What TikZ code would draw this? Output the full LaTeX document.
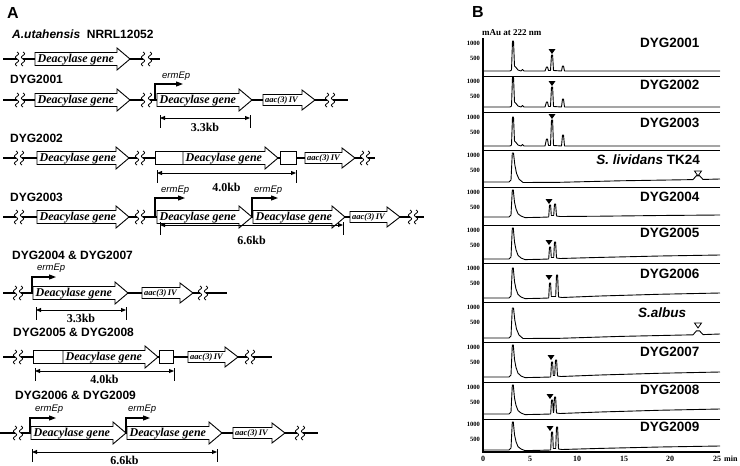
\documentclass[tikz,border=0pt]{standalone}
\usepackage{fontspec}
\setmainfont{Liberation Serif}
\setsansfont{Liberation Sans}
\usetikzlibrary{arrows.meta}
\tikzset{
  lab/.style={font=\sffamily\bfseries\fontsize{12}{12}\selectfont, anchor=west, inner sep=0},
  panellab/.style={font=\sffamily\bfseries\fontsize{16}{16}\selectfont, inner sep=0},
  blab/.style={font=\sffamily\bfseries\fontsize{13.5}{13.5}\selectfont, anchor=west, inner sep=0},
  genetxt/.style={font=\rmfamily\bfseries\itshape\fontsize{12}{12}\selectfont, inner sep=0},
  aactxt/.style={font=\rmfamily\bfseries\itshape\fontsize{8.5}{8.5}\selectfont, inner sep=0},
  promtxt/.style={font=\sffamily\itshape\fontsize{9.5}{9.5}\selectfont, anchor=west, inner sep=0},
  kbtxt/.style={font=\rmfamily\bfseries\fontsize{12}{12}\selectfont, inner sep=0},
  ytick/.style={font=\rmfamily\bfseries\fontsize{6.5}{6.5}\selectfont, anchor=east, inner sep=0},
  xtick/.style={font=\rmfamily\bfseries\fontsize{8}{8}\selectfont, inner sep=0},
  chrom/.style={line width=1.4pt},
  geneshape/.style={draw, fill=white, line width=0.9pt, line join=miter},
  prom/.style={line width=1.1pt, -{Triangle[length=7pt,width=5pt]}},
  dim/.style={line width=0.9pt, {Triangle[length=5pt,width=4pt]}-{Triangle[length=5pt,width=4pt]}},
  tickl/.style={line width=0.9pt},
  brk/.style={line width=0.8pt},
  trace/.style={line width=0.9pt, line join=round},
  sep/.style={line width=1pt},
  axisl/.style={line width=1.1pt}
}
\newcommand{\geneArrow}[5]{%
  \draw[geneshape] (#2,#4-6.5) -- (#3-13,#4-6.5) -- (#3-13,#4-11) -- (#3,#4) -- (#3-13,#4+11) -- (#3-13,#4+6.5) -- (#2,#4+6.5) -- cycle;
  \node[genetxt, anchor=base west] (#1) at (#2+2.5,#4+3) {#5};}
\newcommand{\aacArrow}[4]{%
  \draw[geneshape] (#2,#4-5.5) -- (#3-13,#4-5.5) -- (#3-13,#4-10) -- (#3,#4) -- (#3-13,#4+10) -- (#3-13,#4+5.5) -- (#2,#4+5.5) -- cycle;
  \node[aactxt, anchor=base west] (#1) at (#2+2,#4+2.8) {aac(3)\,IV};}
\newcommand{\brkSym}[2]{%
  \draw[brk] plot[smooth, domain=-7:7, samples=17] ({#1+1.6*sin(\x*51.43)},{#2+\x});}
\newcommand{\promArrow}[4]{\draw[prom] (#1,#2) -- (#1,#3) -- (#4,#3);}
\newcommand{\dimLine}[6]{%
  \draw[tickl] (#2,#4-3) -- (#2,#4+10);
  \draw[tickl] (#3,#4-3) -- (#3,#4+10);
  \draw[dim] (#2,#4) -- (#3,#4);
  \node[kbtxt] (#1) at ({(#2+#3)/2},#6) {#5};}
\newcommand{\chromA}[5]{%
  \begin{scope}[shift={(0,#1)}]
  \draw[trace] (483,0) -- (510,0) -- (511.5,-1) -- (512.5,-#2) -- (513.5,-#2) -- (514.5,-5) -- (516,-3.5) -- (518,-1) -- (521,0) -- (522.5,-1.5) -- (524,0) -- (545,0) -- (546.5,-#3) -- (547.5,-#3) -- (548.5,-0.5) -- (550.5,-0.5) -- (551.5,-#4) -- (552.6,-#4) -- (553.5,-0.5) -- (561.5,0) -- (562.5,-#5) -- (563.5,-#5) -- (564.5,0) -- (720,0);
  \end{scope}}
\newcommand{\chromB}[5]{%
  \begin{scope}[shift={(0,#1)}]
  \draw[trace] (483,0) -- (509,0) -- (511,-2) -- (512.3,-#2) -- (513.5,-#2) -- (514.8,{-0.6*#2}) -- (516.5,{-0.3*#2}) -- (519,{-0.1*#2}) -- (523,0.5) -- (560,0.3) -- (620,{-0.4*#3}) -- (#4-5,{-0.8*#3}) -- (#4-1.5,{-0.8*#3-#5}) -- (#4+1.5,{-0.8*#3-#5}) -- (#4+5,{-0.85*#3}) -- (720,-#3);
  \end{scope}}
\newcommand{\chromC}[7]{%
  \begin{scope}[shift={(0,#1)}]
  \draw[trace] (483,0) -- (509,0) -- (511,-2) -- (512.3,-#2) -- (513.3,-#2) -- (514.5,{-0.55*#2}) -- (516,{-0.3*#2}) -- (518,{-0.12*#2}) -- (521,-1) -- (525,0.6) -- (540,0.3) -- (#3-1.3,0) -- (#3-0.5,-#4) -- (#3+0.6,-#4) -- (#3+1.3,-1.5) -- (#5-1.3,-1.5) -- (#5-0.5,-#6) -- (#5+0.6,-#6) -- (#5+1.5,-1) -- (#5+5,-0.5) -- (600,{-0.4*#7}) -- (660,{-0.75*#7}) -- (720,-#7);
  \end{scope}}
\newcommand{\ftri}[2]{\fill (#1-3.5,#2-5) -- (#1+3.5,#2-5) -- (#1,#2) -- cycle;}
\newcommand{\otri}[2]{\draw[line width=0.8pt, fill=white] (#1-3.5,#2-5) -- (#1+3.5,#2-5) -- (#1,#2) -- cycle;}
\begin{document}
\begin{tikzpicture}[x=1pt,y=-1pt]
\useasboundingbox (0,0) rectangle (740,466);
% ================= Panel A =================
\node[panellab] (pA) at (13,13) {A};
% Row 1
\node[lab] (l1) at (12,34) {\textit{A.utahensis}\ \ NRRL12052};
\draw[chrom] (3,59) -- (17,59); \draw[chrom] (23,59) -- (143,59); \draw[chrom] (150,59) -- (160,59);
\brkSym{17}{59}\brkSym{23}{59}\brkSym{143}{59}\brkSym{150}{59}
\geneArrow{g1}{35}{130}{59}{Deacylase gene}
% Row 2 DYG2001
\node[lab] (l2) at (10,79) {DYG2001};
\draw[chrom] (3,100) -- (17,100); \draw[chrom] (23,100) -- (143,100); \draw[chrom] (150,100) -- (327,100); \draw[chrom] (333,100) -- (348,100);
\brkSym{17}{100}\brkSym{23}{100}\brkSym{143}{100}\brkSym{150}{100}\brkSym{327}{100}\brkSym{333}{100}
\geneArrow{g2a}{35}{130}{100}{Deacylase gene}
\promArrow{155}{100}{84}{183}
\node[promtxt] (e2) at (162,76) {ermEp};
\geneArrow{g2b}{157}{252}{100}{Deacylase gene}
\aacArrow{a2}{263}{315}{100}
\dimLine{d2}{160}{250}{118}{3.3kb}{127}
% Row 3 DYG2002
\node[lab] (l3) at (10,138) {DYG2002};
\draw[chrom] (3,158) -- (16,158); \draw[chrom] (22,158) -- (137,158); \draw[chrom] (143,158) -- (362,158); \draw[chrom] (368,158) -- (375,158);
\brkSym{16}{158}\brkSym{22}{158}\brkSym{137}{158}\brkSym{143}{158}\brkSym{362}{158}\brkSym{368}{158}
\geneArrow{g3a}{37}{129}{158}{Deacylase gene}
\draw[geneshape] (155,151.5) rectangle (183,164.5);
\geneArrow{g3b}{183}{278}{158}{Deacylase gene}
\draw[geneshape] (280,151.5) rectangle (296,164.5);
\aacArrow{a3}{305}{355}{158}
\dimLine{d3}{157}{296}{173}{4.0kb}{187}
% Row 4 DYG2003
\node[lab] (l4) at (10,197) {DYG2003};
\draw[chrom] (3,217) -- (16,217); \draw[chrom] (22,217) -- (137,217); \draw[chrom] (143,217) -- (410,217); \draw[chrom] (416,217) -- (424,217);
\brkSym{16}{217}\brkSym{22}{217}\brkSym{137}{217}\brkSym{143}{217}\brkSym{410}{217}\brkSym{416}{217}
\geneArrow{g4a}{37}{129}{217}{Deacylase gene}
\promArrow{155}{217}{198}{185}
\node[promtxt] (e4a) at (161,190) {ermEp};
\geneArrow{g4b}{157}{252}{217}{Deacylase gene}
\geneArrow{g4c}{253}{345}{217}{Deacylase gene}
\promArrow{252}{217}{198}{278}
\node[promtxt] (e4b) at (254,190) {ermEp};
\aacArrow{a4}{350}{400}{217}
\dimLine{d4}{160}{343}{225}{6.6kb}{240}
% Row 5 DYG2004 & DYG2007
\node[lab] (l5) at (12,255) {DYG2004 \& DYG2007};
\draw[chrom] (3,293) -- (15,293); \draw[chrom] (21,293) -- (200,293); \draw[chrom] (206,293) -- (227,293);
\brkSym{15}{293}\brkSym{21}{293}\brkSym{200}{293}\brkSym{206}{293}
\geneArrow{g5}{33}{128}{293}{Deacylase gene}
\promArrow{32}{293}{277}{56}
\node[promtxt] (e5) at (37,268) {ermEp};
\aacArrow{a5}{142}{193}{293}
\dimLine{d5}{36}{126}{310}{3.3kb}{318}
% Row 6 DYG2005 & DYG2008
\node[lab] (l6) at (13,332) {DYG2005 \& DYG2008};
\draw[chrom] (3,357) -- (15,357); \draw[chrom] (21,357) -- (247,357); \draw[chrom] (253,357) -- (272,357);
\brkSym{15}{357}\brkSym{21}{357}\brkSym{247}{357}\brkSym{253}{357}
\draw[geneshape] (33,350.5) rectangle (63,363.5);
\geneArrow{g6}{63}{158}{357}{Deacylase gene}
\draw[geneshape] (159,350.5) rectangle (173,363.5);
\aacArrow{a6}{188}{238}{357}
\dimLine{d6}{35}{174}{371}{4.0kb}{379}
% Row 7 DYG2006 & DYG2009
\node[lab] (l7) at (15,395) {DYG2006 \& DYG2009};
\draw[chrom] (0,433) -- (15,433); \draw[chrom] (21,433) -- (297,433); \draw[chrom] (303,433) -- (318,433);
\brkSym{15}{433}\brkSym{21}{433}\brkSym{297}{433}\brkSym{303}{433}
\geneArrow{g7a}{31}{126}{433}{Deacylase gene}
\geneArrow{g7b}{127}{222}{433}{Deacylase gene}
\promArrow{30}{433}{418}{56}
\promArrow{126}{433}{418}{150}
\node[promtxt] (e7a) at (35,409) {ermEp};
\node[promtxt] (e7b) at (128,409) {ermEp};
\aacArrow{a7}{233}{285}{433}
\dimLine{d7}{32}{217}{452}{6.6kb}{460}
% ================= Panel B =================
\node[panellab] (pB) at (478,12) {B};
\node[font=\rmfamily\bfseries\fontsize{9}{9}\selectfont, anchor=west, inner sep=0] (mau) at (482,33) {mAu at 222 nm};
\foreach \s in {76,112.5,150,187,225,263,302,342,382,419} \draw[sep] (483,\s) -- (720,\s);
\draw[axisl] (483,38) -- (483,452) -- (720,452);
\foreach \T [count=\i] in {38,76,112.5,150,187,225,263,302,342,382,419} {
  \node[ytick] (yk\i) at (480,\T+5) {1000};
  \node[ytick] (yf\i) at (480,\T+20) {500};
}
\foreach \v/\xx [count=\i] in {0/483,5/530,10/577,15/624,20/670,25/717} \node[xtick] (xt\i) at (\xx,459) {\v};
\node[xtick, anchor=west] (xmin) at (724,459) {min};
% traces
\chromA{71}{30}{4}{16}{5}\ftri{552}{54}
\chromA{107}{30}{5}{20}{8}\ftri{552}{86}
\chromA{146}{29}{7}{26}{11}\ftri{552}{119}
\chromB{182}{29}{3}{698}{4}\otri{698}{176}
\chromC{217}{27}{550}{12}{555}{13}{2}\ftri{549}{204}
\chromC{259}{31}{550}{12}{555}{17}{4}\ftri{549}{245}
\chromC{298}{30}{550}{15}{557}{23}{5}\ftri{549}{280}
\chromB{338}{30}{4}{698}{4}\otri{698}{328}
\chromC{377}{32}{552}{15}{556}{17}{5}\ftri{551}{360}
\chromC{414}{29}{552}{14}{555}{17}{5}\ftri{550}{399}
\chromC{450}{28}{552}{18}{557}{23}{4}\ftri{550}{431}
% labels
\node[blab] (b1) at (640,43) {DYG2001};
\node[blab] (b2) at (640,85) {DYG2002};
\node[blab] (b3) at (640,123) {DYG2003};
\node[blab, anchor=east] (b4) at (700,160) {\textit{S. lividans} TK24};
\node[blab] (b5) at (640,197) {DYG2004};
\node[blab] (b6) at (640,233) {DYG2005};
\node[blab] (b7) at (640,274) {DYG2006};
\node[blab] (b8) at (638,313) {\textit{S.albus}};
\node[blab] (b9) at (640,352) {DYG2007};
\node[blab] (b10) at (640,390) {DYG2008};
\node[blab] (b11) at (640,427) {DYG2009};
\end{tikzpicture}
\end{document}
